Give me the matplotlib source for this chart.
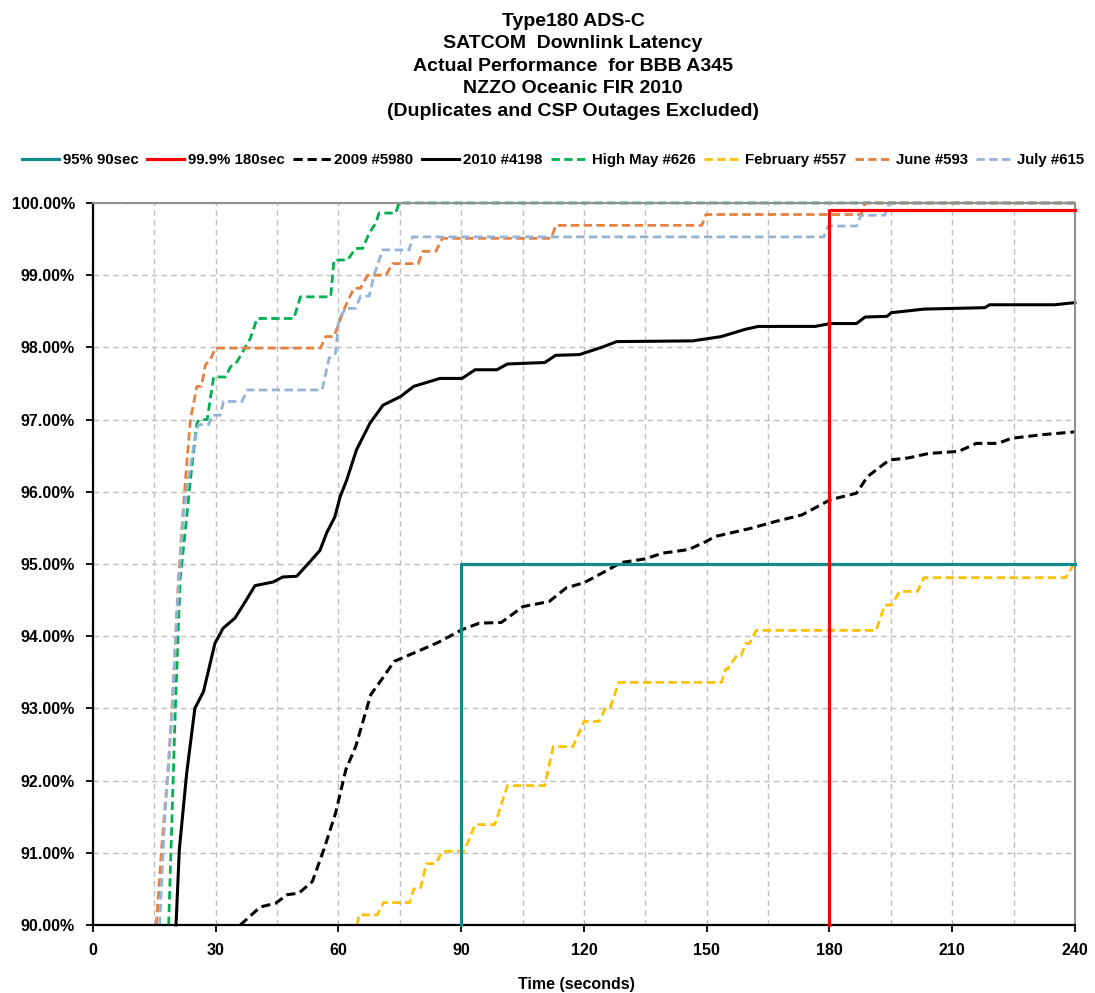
import matplotlib
matplotlib.use('Agg')
import matplotlib.pyplot as plt
from matplotlib.ticker import MultipleLocator, FuncFormatter

plt.rcParams['font.family'] = ['Liberation Sans', 'DejaVu Sans']

# 目标线
t95 = [90, 90, 240]
p95 = [90.0, 95.0, 95.0]
t999 = [180, 180, 240]
p999 = [90.0, 99.9, 99.9]

# 2009 #5980
t09 = [36.0, 40.9, 44.6, 47.5, 50.3, 53.6, 56.4, 59.3, 61.8, 64.2, 66.3, 67.9, 70.8, 73.6,
       77.3, 81.0, 84.6, 90.2, 94.4, 99.8, 105.1, 111.5, 115.7, 120.0, 124.3, 129.1, 134.9,
       139.2, 145.6, 149.8, 152.0, 160.5, 166.9, 173.3, 180.2, 186.6, 189.3, 194.6, 199.4,
       204.2, 211.6, 215.9, 221.2, 224.4, 231.9, 240.0]
p09 = [90.0, 90.25, 90.3, 90.42, 90.44, 90.6, 91.04, 91.55, 92.15, 92.47, 92.88, 93.19, 93.42,
       93.65, 93.74, 93.83, 93.92, 94.09, 94.18, 94.19, 94.41, 94.48, 94.67, 94.74, 94.87,
       95.02, 95.07, 95.15, 95.2, 95.31, 95.38, 95.49, 95.59, 95.68, 95.89, 95.98, 96.21,
       96.44, 96.47, 96.53, 96.56, 96.67, 96.67, 96.74, 96.79, 96.83]

# 2010 #4198
t10 = [20.3, 21.1, 22.9, 24.9, 27.0, 29.8, 31.8, 34.7, 36.7, 39.6, 44.0, 46.4, 49.8, 53.0,
       55.5, 57.1, 59.1, 60.4, 62.0, 64.4, 67.7, 70.9, 75.2, 78.4, 84.8, 90.2, 93.4, 98.7,
       101.3, 110.4, 113.1, 118.9, 124.3, 128.0, 146.6, 153.6, 159.4, 162.6, 176.5, 180.2,
       186.6, 188.7, 194.1, 195.1, 203.1, 218.0, 219.1, 235.0, 240.0]
p10 = [90.0, 91.04, 92.1, 93.0, 93.23, 93.9, 94.11, 94.25, 94.43, 94.7, 94.75, 94.82, 94.83,
       95.03, 95.19, 95.43, 95.65, 95.93, 96.16, 96.58, 96.95, 97.2, 97.32, 97.46, 97.57,
       97.57, 97.69, 97.69, 97.77, 97.79, 97.89, 97.9, 98.0, 98.08, 98.09, 98.15, 98.25,
       98.29, 98.29, 98.33, 98.33, 98.42, 98.43, 98.48, 98.53, 98.55, 98.59, 98.59, 98.62]

# High May #626
tmay = [18.5, 20.1, 21.3, 23.0, 23.8, 25.4, 26.0, 27.9, 29.5, 32.4, 33.6, 35.2, 36.4, 38.5,
        40.1, 49.1, 50.7, 58.1, 58.9, 62.2, 64.2, 65.9, 67.5, 69.1, 69.9, 74.0, 74.8, 240.0]
pmay = [90.0, 92.94, 94.78, 95.7, 96.16, 96.95, 97.0, 97.0, 97.59, 97.59, 97.73, 97.8, 97.92,
        98.13, 98.4, 98.4, 98.7, 98.7, 99.21, 99.21, 99.37, 99.37, 99.58, 99.72, 99.86, 99.86,
        100.0, 100.0]

# February #557
tfeb = [64.6, 65.0, 69.5, 71.0, 77.4, 78.4, 80.0, 81.5, 83.8, 85.4, 90.7, 93.4, 98.2, 101.3,
        110.4, 112.5, 117.3, 120.0, 123.7, 125.3, 126.4, 128.5, 153.6, 154.7, 155.2, 157.3,
        158.4, 159.5, 160.5, 162.1, 191.4, 193.5, 195.1, 197.2, 201.5, 203.1, 237.7, 239.8, 240.0]
pfeb = [90.0, 90.14, 90.14, 90.31, 90.31, 90.5, 90.5, 90.85, 90.85, 91.02, 91.02, 91.39, 91.39,
        91.93, 91.93, 92.47, 92.47, 92.82, 92.82, 93.01, 93.01, 93.36, 93.36, 93.55, 93.55,
        93.73, 93.73, 93.9, 93.9, 94.08, 94.08, 94.43, 94.43, 94.62, 94.62, 94.81, 94.81, 95.0, 95.0]

# June #593
tjun = [15.5, 16.8, 18.5, 19.7, 20.9, 22.1, 22.6, 23.8, 25.4, 26.5, 27.5, 28.7, 29.9, 55.6,
        56.9, 58.9, 60.1, 61.3, 62.6, 63.8, 65.4, 67.1, 71.6, 73.2, 79.5, 80.6, 83.8, 85.4,
        112.0, 113.1, 148.8, 149.8, 187.7, 188.7, 240.0]
pjun = [90.0, 91.08, 92.24, 93.39, 94.78, 95.79, 96.16, 96.99, 97.46, 97.46, 97.76, 97.83, 97.99,
        97.99, 98.15, 98.15, 98.33, 98.52, 98.68, 98.82, 98.82, 99.0, 99.0, 99.16, 99.16, 99.33,
        99.33, 99.51, 99.51, 99.69, 99.69, 99.84, 99.84, 100.0, 100.0]

# July #615
tjul = [16.3, 17.6, 19.3, 20.5, 22.1, 23.2, 25.0, 25.8, 28.3, 29.1, 31.1, 31.9, 36.4, 37.7,
        56.0, 57.7, 59.3, 60.1, 61.8, 64.2, 65.4, 67.5, 68.7, 70.8, 77.3, 78.1, 178.6, 179.7,
        186.6, 187.7, 193.5, 194.6, 240.0]
pjul = [90.0, 91.55, 92.93, 94.32, 95.7, 96.14, 96.76, 96.93, 96.93, 97.06, 97.06, 97.25, 97.25,
        97.41, 97.41, 97.85, 97.92, 98.4, 98.54, 98.54, 98.71, 98.71, 99.0, 99.35, 99.35, 99.53,
        99.53, 99.68, 99.68, 99.83, 99.83, 100.0, 100.0]

title_lines = ['Type180 ADS-C', 'SATCOM  Downlink Latency', 'Actual Performance  for BBB A345',
               'NZZO Oceanic FIR 2010', '(Duplicates and CSP Outages Excluded)']

fig = plt.figure(figsize=(10.95, 9.93), dpi=100)
ax = fig.add_axes([0.0849, 0.0685, 0.8968, 0.7271])

dash = (3, 1.6)
ax.plot(t95, p95, color='#128A8A', lw=2.3, label='95% 90sec', clip_on=False, zorder=5)
ax.plot(t999, p999, color='#FF0000', lw=2.3, label='99.9% 180sec', clip_on=False, zorder=5)
ax.plot(t09, p09, color='black', lw=2.2, dashes=dash, label='2009 #5980', clip_on=False)
ax.plot(t10, p10, color='black', lw=2.2, label='2010 #4198', clip_on=False)
ax.plot(tmay, pmay, color='#00B050', lw=2.0, dashes=dash, label='High May #626', clip_on=False)
ax.plot(tfeb, pfeb, color='#FFC000', lw=2.0, dashes=dash, label='February #557', clip_on=False)
ax.plot(tjun, pjun, color='#E5803F', lw=2.0, dashes=dash, label='June #593', clip_on=False)
ax.plot(tjul, pjul, color='#95B3D7', lw=2.0, dashes=dash, label='July #615', clip_on=False)

ax.set_xlim(0, 240)
ax.set_ylim(90, 100)
ax.xaxis.set_major_locator(MultipleLocator(30))
ax.xaxis.set_minor_locator(MultipleLocator(15))
ax.yaxis.set_major_locator(MultipleLocator(1))
ax.yaxis.set_major_formatter(FuncFormatter(lambda v, pos: '%.2f%%' % v))
ax.grid(which='both', axis='x', color='#BFBFBF', linestyle=(0, (4, 3)), lw=1)
ax.grid(which='major', axis='y', color='#BFBFBF', linestyle=(0, (4, 3)), lw=1)
ax.set_axisbelow(True)
ax.tick_params(which='minor', length=0)
ax.tick_params(which='major', direction='out', length=5, width=1.3, pad=8,
               labelsize=11.5, color='black')
for lab in ax.get_xticklabels() + ax.get_yticklabels():
    lab.set_fontweight('bold')

ax.spines['left'].set_color('black')
ax.spines['bottom'].set_color('black')
ax.spines['left'].set_linewidth(1.6)
ax.spines['bottom'].set_linewidth(1.6)
ax.spines['top'].set_color('#909090')
ax.spines['right'].set_color('#909090')
ax.spines['top'].set_linewidth(1.5)
ax.spines['right'].set_linewidth(1.5)

fig.text(576 / 1095, 1 - 984 / 993, 'Time (seconds)', ha='center', va='center',
         fontsize=11.5, fontweight='bold')

for i, line in enumerate(title_lines):
    fig.text(573 / 1095, 1 - (21 + 22.6 * i) / 993, line, ha='center', va='center',
             fontsize=14, fontweight='bold')

leg = fig.legend(loc='center', bbox_to_anchor=(553 / 1095, 1 - 160 / 993), ncol=8, frameon=False,
                 prop={'size': 10.8, 'weight': 'bold'},
                 handlelength=2.5, handletextpad=0.25, columnspacing=0.55)

fig.savefig('out.png', dpi=100)
